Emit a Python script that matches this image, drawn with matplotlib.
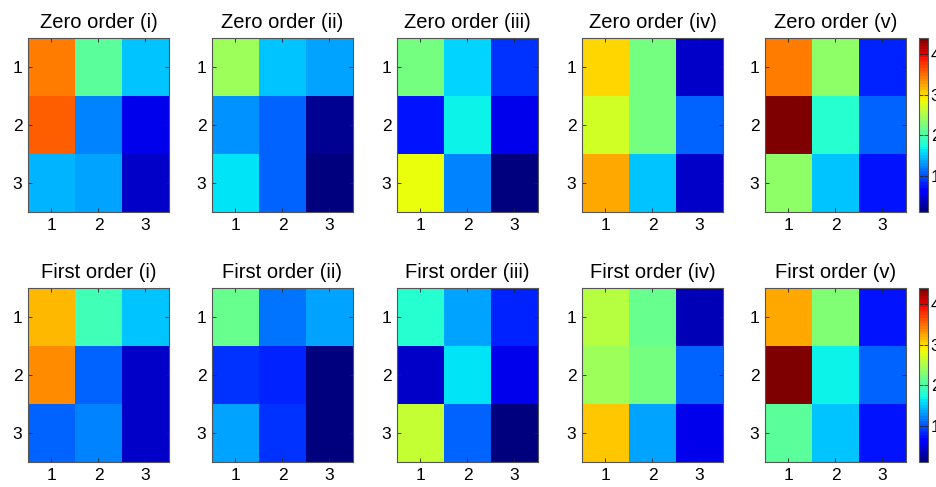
import numpy as np
import matplotlib
matplotlib.use("Agg")
import matplotlib.pyplot as plt

# ---------------- data ----------------
labels = ["(i)", "(ii)", "(iii)", "(iv)", "(v)"]
ticks = [1, 2, 3]
cbar_ticks = [1, 2, 3, 4]
vmin, vmax = 0.1, 4.4

zero_i = [[3.40, 2.05, 1.45],
          [3.55, 1.23, 0.55],
          [1.40, 1.33, 0.40]]
zero_ii = [[2.45, 1.50, 1.37],
           [1.27, 1.05, 0.20],
           [1.58, 1.07, 0.15]]
zero_iii = [[2.20, 1.52, 0.90],
            [0.77, 1.71, 0.51],
            [2.80, 1.19, 0.10]]
zero_iv = [[3.00, 2.24, 0.40],
           [2.70, 2.24, 1.07],
           [3.20, 1.50, 0.40]]
zero_v = [[3.40, 2.38, 0.81],
          [4.40, 1.84, 1.07],
          [2.34, 1.48, 0.77]]

first_i = [[3.15, 1.97, 1.45],
           [3.34, 1.07, 0.42],
           [1.08, 1.19, 0.42]]
first_ii = [[2.13, 1.17, 1.37],
            [0.90, 0.81, 0.15],
            [1.33, 0.85, 0.15]]
first_iii = [[1.84, 1.33, 0.81],
             [0.42, 1.58, 0.51],
             [2.62, 1.10, 0.10]]
first_iv = [[2.56, 2.15, 0.34],
            [2.43, 2.20, 1.10],
            [3.06, 1.37, 0.53]]
first_v = [[3.24, 2.30, 0.77],
           [4.40, 1.67, 1.10],
           [2.06, 1.47, 0.77]]

rows = [("Zero order", [zero_i, zero_ii, zero_iii, zero_iv, zero_v]),
        ("First order", [first_i, first_ii, first_iii, first_iv, first_v])]

# ---------------- layout (pixels) ----------------
W, H = 937, 487
lefts = [28, 212, 397, 582, 765]
ax_w = 141
row_tops = [38, 288]
ax_h = 174
cb_left, cb_w = 919, 9

plt.rcParams["font.family"] = ["Liberation Sans", "DejaVu Sans"]
cmap = plt.get_cmap("jet", 64)

fig = plt.figure(figsize=(W / 100, H / 100), dpi=100)


def px_rect(x, top, w, h):
    return [x / W, 1 - (top + h) / H, w / W, h / H]


def style_axes(ax):
    for sp in ax.spines.values():
        sp.set_color("#555555")
        sp.set_linewidth(0.8)
    ax.tick_params(direction="in", length=3, width=0.6, color="#222222",
                   top=True, right=True, labelsize=12.5, pad=4)


for (name, mats), top in zip(rows, row_tops):
    im = None
    for lab, m, x in zip(labels, mats, lefts):
        ax = fig.add_axes(px_rect(x, top, ax_w, ax_h))
        im = ax.imshow(np.array(m), cmap=cmap, vmin=vmin, vmax=vmax,
                       aspect="auto", interpolation="nearest",
                       extent=[0.5, 3.5, 3.5, 0.5])
        ax.set_xticks(ticks)
        ax.set_yticks(ticks)
        style_axes(ax)
        ax.set_title(f"{name} {lab}", fontsize=14.5, pad=7)
    cax = fig.add_axes(px_rect(cb_left, top, cb_w, ax_h))
    cb = fig.colorbar(im, cax=cax, ticks=cbar_ticks)
    cb.outline.set_edgecolor("#555555")
    cb.outline.set_linewidth(0.8)
    cax.tick_params(direction="in", length=3, width=0.6, color="#222222",
                    left=True, right=True, labelsize=12.5, pad=2)

fig.savefig("out.png", dpi=100)
